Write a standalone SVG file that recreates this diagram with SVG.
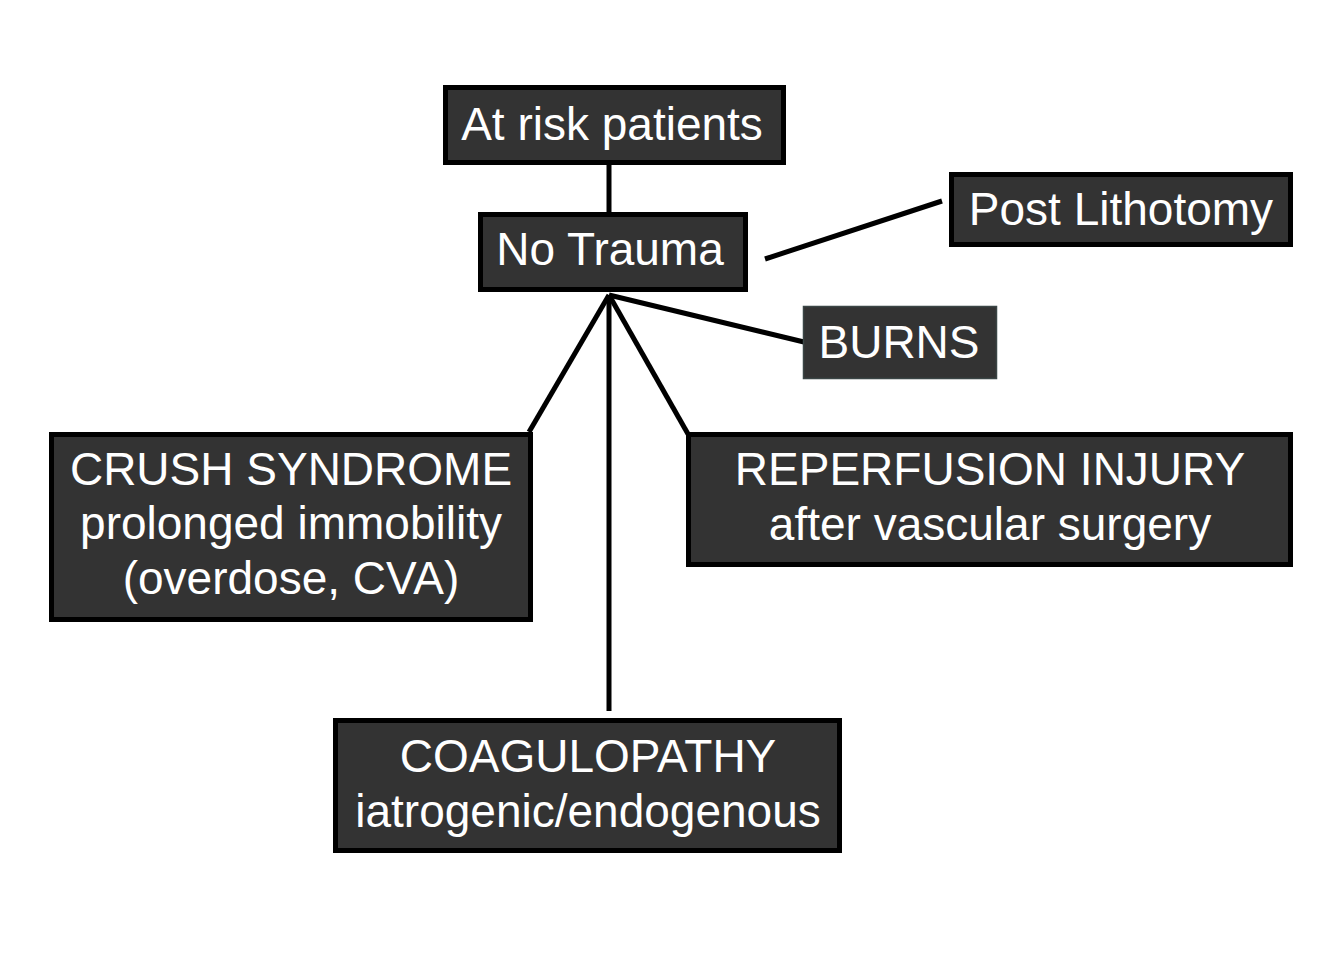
<svg xmlns="http://www.w3.org/2000/svg" width="1334" height="953" viewBox="0 0 1334 953">
<style>
.box{fill:#333333;stroke:#000000;stroke-width:5}
.box2{fill:#333333;stroke:#3b4646;stroke-width:1.5}
.t{font-family:"Liberation Sans",Arial,sans-serif;font-size:46px;fill:#ffffff;text-anchor:middle}
.c{stroke:#000000;stroke-width:5;fill:none;stroke-linecap:butt}
</style>
<rect width="1334" height="953" fill="#ffffff"/>
<g id="connectors">
<line class="c" x1="609" y1="163" x2="609" y2="213"/>
<line class="c" x1="609" y1="295" x2="529" y2="432"/>
<line class="c" x1="609" y1="295" x2="609" y2="711"/>
<line class="c" x1="609" y1="295" x2="688" y2="434"/>
<line class="c" x1="609" y1="295" x2="804" y2="342"/>
<line class="c" x1="765" y1="259" x2="942" y2="201"/>
</g>
<g id="at-risk">
<rect class="box" x="445.5" y="87.5" width="338" height="75"/>
<text class="t" x="612" y="140">At risk patients</text>
</g>
<g id="no-trauma">
<rect class="box" x="480.5" y="214.5" width="265" height="75"/>
<text class="t" x="610" y="265">No Trauma</text>
</g>
<g id="post-lithotomy">
<rect class="box" x="951.5" y="174.5" width="339" height="70"/>
<text class="t" x="1121" y="225">Post Lithotomy</text>
</g>
<g id="burns">
<rect class="box2" x="803.5" y="306.5" width="193" height="72"/>
<text class="t" x="899" y="358">BURNS</text>
</g>
<g id="crush">
<rect class="box" x="51.5" y="434.5" width="479" height="185"/>
<text class="t" x="291" y="485">CRUSH SYNDROME</text>
<text class="t" x="291" y="539">prolonged immobility</text>
<text class="t" x="291" y="594">(overdose, CVA)</text>
</g>
<g id="reperfusion">
<rect class="box" x="688.5" y="434.5" width="602" height="130"/>
<text class="t" x="990" y="485">REPERFUSION INJURY</text>
<text class="t" x="990" y="540">after vascular surgery</text>
</g>
<g id="coagulopathy">
<rect class="box" x="335.5" y="720.5" width="504" height="130"/>
<text class="t" x="588" y="772">COAGULOPATHY</text>
<text class="t" x="588" y="827">iatrogenic/endogenous</text>
</g>
</svg>
